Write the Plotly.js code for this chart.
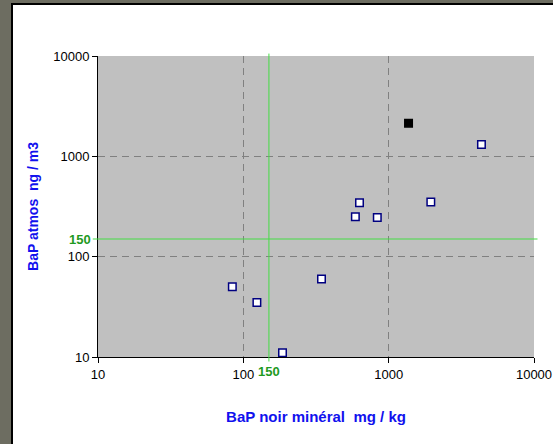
<!DOCTYPE html>
<html>
<head>
<meta charset="utf-8">
<script src="https://cdn.plot.ly/plotly-3.0.1.min.js"></script>
<style>
  html, body { margin: 0; padding: 0; width: 553px; height: 444px; overflow: hidden; background: #6d6d61; }
  #frame { position: absolute; left: 11px; top: 3px; width: 542px; height: 441px; border-left: 2px solid #000; border-top: 2px solid #000; background: #fff; }
  #chart { width: 540px; height: 439px; }
</style>
</head>
<body>
<div id="frame"><div id="chart"></div></div>
<script>
// Data
const soilBaP = [84, 124, 186, 345, 590, 630, 835, 1950, 4350];      // BaP noir minéral (mg/kg)
const airBaP  = [50, 35, 11, 60, 250, 345, 245, 350, 1310];          // BaP atmos (ng/m3)
const highlightSoil = [1370];
const highlightAir  = [2140];
const threshold = 150;
const tickVals = [10, 100, 1000, 10000];
const tickText = ['10', '100', '1000', '10000'];

const green = '#44dd44';
const greenText = '#1f9a1f';
const blue = '#1111ee';

const traces = [
  {
    x: soilBaP, y: airBaP, type: 'scatter', mode: 'markers',
    marker: { symbol: 'square', size: 7.5, color: '#ffffff', line: { color: '#000080', width: 1.5 } },
    hoverinfo: 'x+y'
  },
  {
    x: highlightSoil, y: highlightAir, type: 'scatter', mode: 'markers',
    marker: { symbol: 'square', size: 7.5, color: '#000000', line: { color: '#000000', width: 1.5 } },
    hoverinfo: 'x+y'
  }
];

const axisFont = { family: 'Liberation Sans, Arial, sans-serif', size: 13, color: '#000' };

const layout = {
  width: 540, height: 439,
  margin: { l: 85, r: 19, t: 51, b: 87 },
  paper_bgcolor: '#ffffff',
  plot_bgcolor: '#c0c0c0',
  showlegend: false,
  font: axisFont,
  xaxis: {
    type: 'log', range: [1, 4],
    tickvals: tickVals, ticktext: tickText,
    ticks: 'outside', ticklen: 5, tickcolor: '#000', tickwidth: 1,
    showline: true, linecolor: '#000', linewidth: 1,
    showgrid: true, gridcolor: '#808080', gridwidth: 1, griddash: '7px,5px',
    zeroline: false, tickfont: axisFont,
    title: { text: 'BaP noir minéral  mg / kg', standoff: 30,
             font: { family: 'Liberation Sans, Arial, sans-serif', size: 15, color: blue, weight: 'bold' } }
  },
  yaxis: {
    type: 'log', range: [1, 4],
    tickvals: tickVals, ticktext: tickText,
    ticks: 'outside', ticklen: 5, tickcolor: '#000', tickwidth: 1,
    showline: true, linecolor: '#000', linewidth: 1,
    showgrid: true, gridcolor: '#808080', gridwidth: 1, griddash: '7px,5px',
    zeroline: false, tickfont: axisFont,
    title: { text: 'BaP atmos  ng / m3', standoff: 11,
             font: { family: 'Liberation Sans, Arial, sans-serif', size: 14, color: blue, weight: 'bold' } }
  },
  shapes: [
    { type: 'line', xref: 'paper', yref: 'y', x0: -0.012, x1: 1.008, y0: threshold, y1: threshold,
      line: { color: green, width: 1 }, layer: 'above' },
    { type: 'line', xref: 'x', yref: 'paper', x0: threshold, x1: threshold, y0: -0.015, y1: 1.008,
      line: { color: green, width: 1 }, layer: 'above' }
  ],
  annotations: [
    { xref: 'paper', yref: 'y', x: 0, y: Math.log10(threshold), xanchor: 'right', yanchor: 'middle',
      xshift: -5, showarrow: false, text: String(threshold),
      font: { family: 'Liberation Sans, Arial, sans-serif', size: 13, color: greenText, weight: 'bold' } },
    { xref: 'x', yref: 'paper', x: Math.log10(threshold), y: 0, xanchor: 'center', yanchor: 'top',
      yshift: -5, showarrow: false, text: String(threshold),
      font: { family: 'Liberation Sans, Arial, sans-serif', size: 13, color: greenText, weight: 'bold' } }
  ]
};

Plotly.newPlot('chart', traces, layout, { displayModeBar: false, staticPlot: true });
</script>
</body>
</html>
